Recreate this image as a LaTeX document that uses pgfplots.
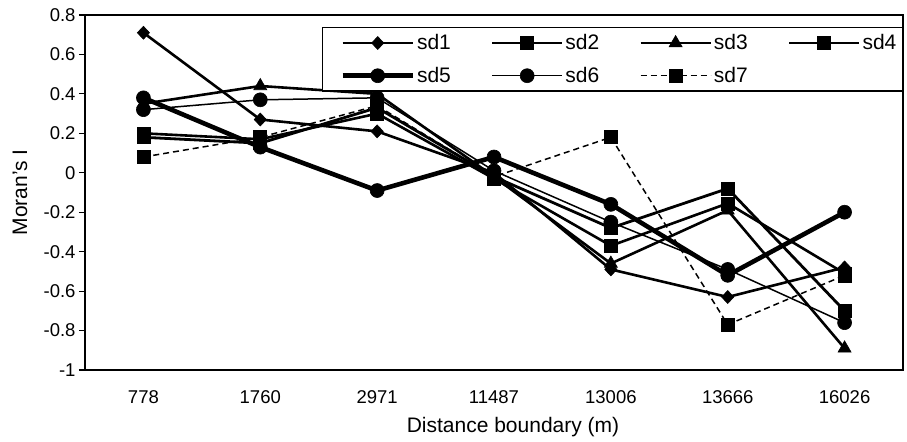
\documentclass[border=0pt]{standalone}
\usepackage{fontspec}
\setmainfont{Liberation Sans}
\usepackage{pgfplots}
\pgfplotsset{compat=1.18}
\begin{document}
\begin{tikzpicture}
\begin{axis}[
  scale only axis, width=818bp, height=355bp,
  xmin=-0.5, xmax=6.5, ymin=-1, ymax=0.8,
  xtick={0,1,2,3,4,5,6},
  xticklabels={778,1760,2971,11487,13006,13666,16026},
  ytick={-1,-0.8,-0.6,-0.4,-0.2,0,0.2,0.4,0.6,0.8},
  yticklabels={-1,-0.8,-0.6,-0.4,-0.2,0,0.2,0.4,0.6,0.8},
  ytick pos=left, tick align=outside, major tick length=6bp,
  x tick style={draw=none},
  y tick style={line width=1.2bp, black},
  tick label style={font=\fontsize{18.5bp}{22bp}\selectfont},
  xticklabel style={yshift=-11bp},
  axis line style={line width=1.6bp},
  /pgf/number format/assume math mode=true,
  xlabel={Distance boundary (m)},
  ylabel={Moran's I},
  label style={font=\fontsize{21bp}{25bp}\selectfont},
  xlabel style={at={(rel axis cs:0.5,0)}, anchor=center, yshift=-57bp, xshift=19bp},
  ylabel style={at={(rel axis cs:0,0.5)}, anchor=center, yshift=65bp},
  legend columns=4,
  legend style={at={(1,0.966)}, anchor=north east, draw=black, line width=1.2bp,
    font=\fontsize{21bp}{25bp}\selectfont, inner xsep=4bp, inner ysep=5bp,
    row sep=12bp,
    /tikz/every even column/.append style={column sep=24bp}},
  legend image code/.code={\path (-14bp,0bp); \draw[mark repeat=2,mark phase=2,#1] plot coordinates {(0bp,0bp) (35bp,0bp) (70bp,0bp)};},
  clip=false,
]
\addplot[black, line width=2.6bp, mark=diamond*, mark size=6.5bp, mark options={solid,fill=black,line width=0.6bp,xscale=1.25}]
  coordinates {(0,0.71) (1,0.27) (2,0.21) (3,0.00) (4,-0.49) (5,-0.63) (6,-0.48)};
\addlegendentry{sd1}
\addplot[black, line width=2.6bp, mark=square*, mark size=6.5bp, mark options={solid,fill=black,line width=0.6bp}]
  coordinates {(0,0.20) (1,0.17) (2,0.30) (3,-0.03) (4,-0.37) (5,-0.155) (6,-0.51)};
\addlegendentry{sd2}
\addplot[black, line width=2.6bp, mark=triangle*, mark size=7.5bp, mark options={solid,fill=black,line width=0.6bp}]
  coordinates {(0,0.35) (1,0.44) (2,0.40) (3,-0.02) (4,-0.46) (5,-0.19) (6,-0.89)};
\addlegendentry{sd3}
\addplot[black, line width=2.8bp, mark=square*, mark size=6.5bp, mark options={solid,fill=black,line width=0.6bp}]
  coordinates {(0,0.18) (1,0.15) (2,0.33) (3,-0.02) (4,-0.28) (5,-0.08) (6,-0.70)};
\addlegendentry{sd4}
\addplot[black, line width=4.6bp, mark=*, mark size=7bp, mark options={solid,fill=black,line width=0.6bp}]
  coordinates {(0,0.38) (1,0.13) (2,-0.09) (3,0.08) (4,-0.16) (5,-0.52) (6,-0.20)};
\addlegendentry{sd5}
\addplot[black, line width=1.5bp, mark=*, mark size=7bp, mark options={solid,fill=black,line width=0.6bp}]
  coordinates {(0,0.32) (1,0.37) (2,0.38) (3,0.01) (4,-0.25) (5,-0.49) (6,-0.76)};
\addlegendentry{sd6}
\addplot[black, line width=1.5bp, dash pattern=on 6bp off 4bp, mark=square*, mark size=6.5bp, mark options={solid,fill=black,line width=0.6bp}]
  coordinates {(0,0.08) (1,0.18) (2,0.34) (3,-0.02) (4,0.18) (5,-0.77) (6,-0.52)};
\addlegendentry{sd7}
\end{axis}
\pgfresetboundingbox
\path ([shift={(-85bp,-71bp)}]current axis.south west) rectangle ([shift={(4bp,15bp)}]current axis.north east);
\end{tikzpicture}
\end{document}
